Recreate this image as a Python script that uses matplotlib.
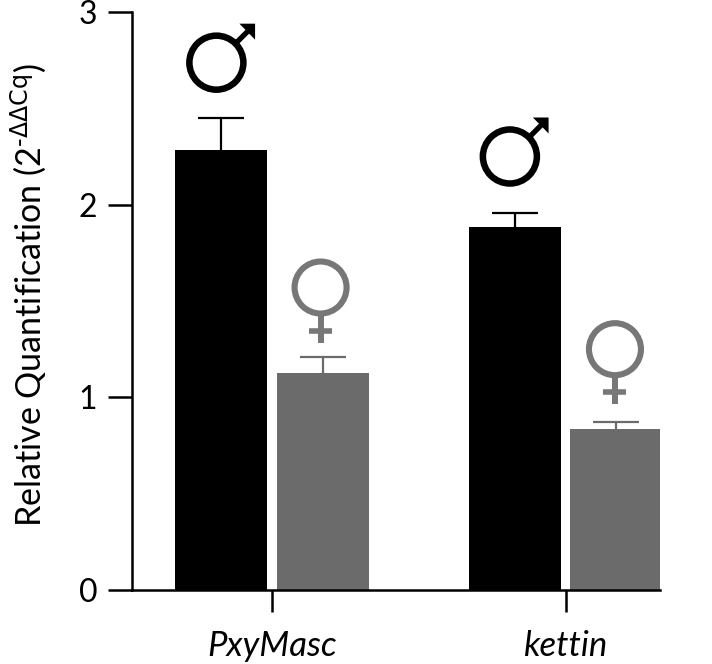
import matplotlib.pyplot as plt
from matplotlib.patches import Circle, Polygon
from matplotlib.lines import Line2D
from matplotlib.transforms import Affine2D

genes = ['PxyMasc', 'kettin']
male = [2.285, 1.885]
female = [1.125, 0.835]
male_err = [0.165, 0.07]
female_err = [0.085, 0.035]

plt.rcParams['font.family'] = ['Lato', 'DejaVu Sans']
W, H = 712, 664
fig = plt.figure(figsize=(W / 100, H / 100), dpi=100)
ax = fig.add_axes([132 / W, 1 - 590 / H, (660 - 132) / W, (590 - 12) / H])

centers = [1.0, 2.0]
bw = 0.313
gap = 0.345
black = '#000000'
grey = '#6b6b6b'
for i, c in enumerate(centers):
    ax.bar(c - gap / 2, male[i], bw, color=black, zorder=3)
    ax.bar(c + gap / 2, female[i], bw, color=grey, zorder=3)
    # lower cap sits inside the bar so only the upper one shows
    ax.errorbar(c - gap / 2, male[i], yerr=[[0.03], [male_err[i]]], color=black, lw=1.6, capsize=16.5, capthick=1.6, zorder=2)
    ax.errorbar(c + gap / 2, female[i], yerr=[[0.03], [female_err[i]]], color=grey, lw=1.6, capsize=16.5, capthick=1.6, zorder=2)

ax.set_xlim(1 - (272 - 132) / 293.5, 1 + (660 - 272) / 293.5)
ax.set_ylim(0, 3)
ax.set_yticks([0, 1, 2, 3])
ax.set_xticks(centers)
ax.set_xticklabels(genes, style='italic', fontsize=25)
ax.tick_params(axis='y', labelsize=23, width=1.8, length=17, pad=8)
ax.tick_params(axis='x', width=1.8, length=16, pad=13)
for s in ['top', 'right']:
    ax.spines[s].set_visible(False)
for s in ['left', 'bottom']:
    ax.spines[s].set_linewidth(1.8)
ax.spines['bottom'].set_zorder(4)
ax.set_ylabel('Relative Quantification (2$^{\\text{-ΔΔCq}}$)', fontsize=24.5, labelpad=21, y=0.51)


# sex symbols are drawn in pixels around a data anchor
def male_sign(x, y):
    t = Affine2D().translate(*ax.transData.transform((x, y)))
    ax.add_patch(Circle((0, 0), 27, fc='none', ec=black, lw=4.7, transform=t, clip_on=False))
    ax.add_line(Line2D([19, 33], [19, 33], color=black, lw=3.8, transform=t, solid_capstyle='butt'))
    ax.add_patch(Polygon([[38.7, 39], [23, 39], [38.7, 23]], fc=black, ec='none', transform=t, clip_on=False))


def female_sign(x, y):
    col = '#777777'
    t = Affine2D().translate(*ax.transData.transform((x, y)))
    ax.add_patch(Circle((0, 0), 26, fc='none', ec=col, lw=4.4, transform=t, clip_on=False))
    ax.add_line(Line2D([0, 0], [-28, -55], color=col, lw=4.3, transform=t, solid_capstyle='butt'))
    ax.add_line(Line2D([-11.5, 11.5], [-43, -43], color=col, lw=4.0, transform=t, solid_capstyle='butt'))


male_sign(1 - gap / 2 - 0.017, 2.737)
male_sign(2 - gap / 2 - 0.017, 2.25)
female_sign(1 + gap / 2 - 0.007, 1.57)
female_sign(2 + gap / 2 - 0.004, 1.25)

fig.savefig('out.png', dpi=100)
